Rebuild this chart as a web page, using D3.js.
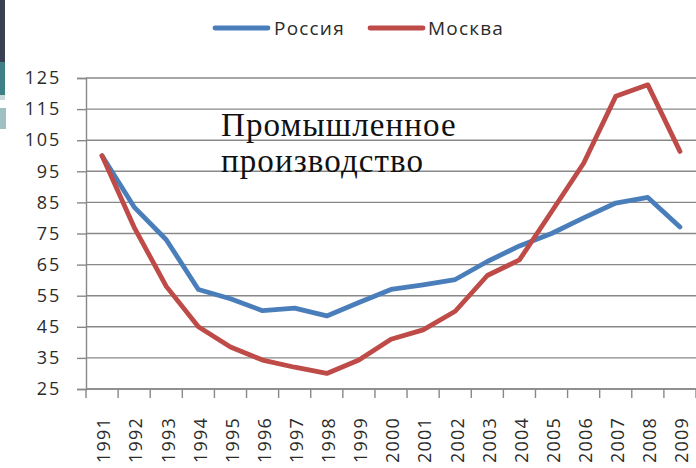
<!DOCTYPE html>
<html>
<head>
<meta charset="utf-8">
<script src="https://cdn.jsdelivr.net/npm/d3@7"></script>
<style>
  html, body { margin: 0; padding: 0; background: #ffffff; }
  svg { display: block; }
</style>
</head>
<body>
<svg id="chart" width="696" height="468"></svg>
<script>
const years = ["1991","1992","1993","1994","1995","1996","1997","1998","1999","2000",
               "2001","2002","2003","2004","2005","2006","2007","2008","2009"];
const russia = [100, 83.5, 73, 57, 54, 50.2, 51, 48.5, 52.8, 57, 58.5, 60.2, 66, 71, 75, 80, 84.8, 86.6, 77.1];
const moscow = [100, 77, 58, 45, 38.5, 34.3, 32, 30, 34.3, 41, 44, 50, 61.5, 66.5, 82, 97.6, 119.1, 122.8, 101.4];
const yTicks = [25, 35, 45, 55, 65, 75, 85, 95, 105, 115, 125];
const seriesNames = ["Россия", "Москва"];
const seriesColors = ["#4a7ebb", "#be4b48"];
const titleLines = ["Промышленное", "производство"];

const svg = d3.select("#chart");

// slide decoration on the left edge
svg.append("rect").attr("x", 0).attr("y", 0).attr("width", 5).attr("height", 62).attr("fill", "#3b3f52");
svg.append("rect").attr("x", 0).attr("y", 62).attr("width", 5).attr("height", 33).attr("fill", "#3f7f86");
svg.append("rect").attr("x", 0).attr("y", 95).attr("width", 5).attr("height", 5).attr("fill", "#c9d9da");
svg.append("rect").attr("x", 0).attr("y", 108).attr("width", 6).attr("height", 21).attr("fill", "#9fc0c2");

const pLeft = 86, pRight = 696, pTop = 78, pBottom = 389;

const x = d3.scaleBand().domain(years).range([pLeft, pRight]);
const y = d3.scaleLinear().domain([25, 125]).range([pBottom, pTop]);

const gridColor = "#888888";
const labelColor = "#2b2b2b";

// gridlines
svg.append("g").selectAll("line").data(yTicks).join("line")
  .attr("x1", pLeft).attr("x2", pRight)
  .attr("y1", d => y(d)).attr("y2", d => y(d))
  .attr("stroke", gridColor).attr("stroke-width", 1.4);

// y axis
const yAxis = svg.append("g").attr("transform", `translate(${pLeft},0)`)
  .call(d3.axisLeft(y).tickValues(yTicks).tickSize(9).tickPadding(16));
yAxis.select(".domain").attr("stroke", gridColor).attr("stroke-width", 1.4);
yAxis.selectAll(".tick line").attr("stroke", gridColor).attr("stroke-width", 1.4);
yAxis.selectAll(".tick text")
  .attr("font-family", "'Open Sans', sans-serif").attr("font-size", 18)
  .attr("letter-spacing", "1.8px").attr("fill", labelColor);

// x axis: ticks between categories
const xBound = years.map(d => x(d)).concat([pRight]);
svg.append("g").selectAll("line").data(xBound).join("line")
  .attr("x1", d => d).attr("x2", d => d)
  .attr("y1", pBottom).attr("y2", pBottom + 9)
  .attr("stroke", gridColor).attr("stroke-width", 1.4);
svg.append("line").attr("x1", pLeft).attr("x2", pRight).attr("y1", pBottom).attr("y2", pBottom)
  .attr("stroke", gridColor).attr("stroke-width", 1.4);

svg.append("g").selectAll("text").data(years).join("text")
  .attr("transform", d => `translate(${x(d) + x.bandwidth() / 2 + 2},417) rotate(-90)`)
  .attr("text-anchor", "end").attr("dy", "0.35em")
  .attr("font-family", "'Open Sans', sans-serif").attr("font-size", 18)
  .attr("letter-spacing", "1.2px").attr("fill", labelColor)
  .text(d => d);

// lines
const line = d3.line()
  .x((d, i) => x(years[i]) + x.bandwidth() / 2)
  .y(d => y(d));
[russia, moscow].forEach((s, k) => {
  svg.append("path").datum(s)
    .attr("d", line)
    .attr("fill", "none")
    .attr("stroke", seriesColors[k])
    .attr("stroke-width", 4.8)
    .attr("stroke-linejoin", "round")
    .attr("stroke-linecap", "round");
});

// legend
const legendPos = [[215, 274], [370, 428]];
seriesNames.forEach((n, k) => {
  svg.append("line")
    .attr("x1", legendPos[k][0]).attr("x2", legendPos[k][0] + 53)
    .attr("y1", 28).attr("y2", 28)
    .attr("stroke", seriesColors[k]).attr("stroke-width", 4.8).attr("stroke-linecap", "round");
  svg.append("text")
    .attr("x", legendPos[k][1]).attr("y", 28).attr("dy", "0.35em")
    .attr("font-family", "'Open Sans', sans-serif").attr("font-size", 19)
    .attr("letter-spacing", "1.2px").attr("fill", labelColor)
    .text(n);
});

// title text inside plot
svg.append("g").selectAll("text").data(titleLines).join("text")
  .attr("x", 221).attr("y", (d, i) => 136 + i * 36)
  .attr("font-family", "'Liberation Serif', 'Times New Roman', serif")
  .attr("font-size", 33).attr("letter-spacing", "1.1px").attr("fill", "#111")
  .text(d => d);
</script>
</body>
</html>
